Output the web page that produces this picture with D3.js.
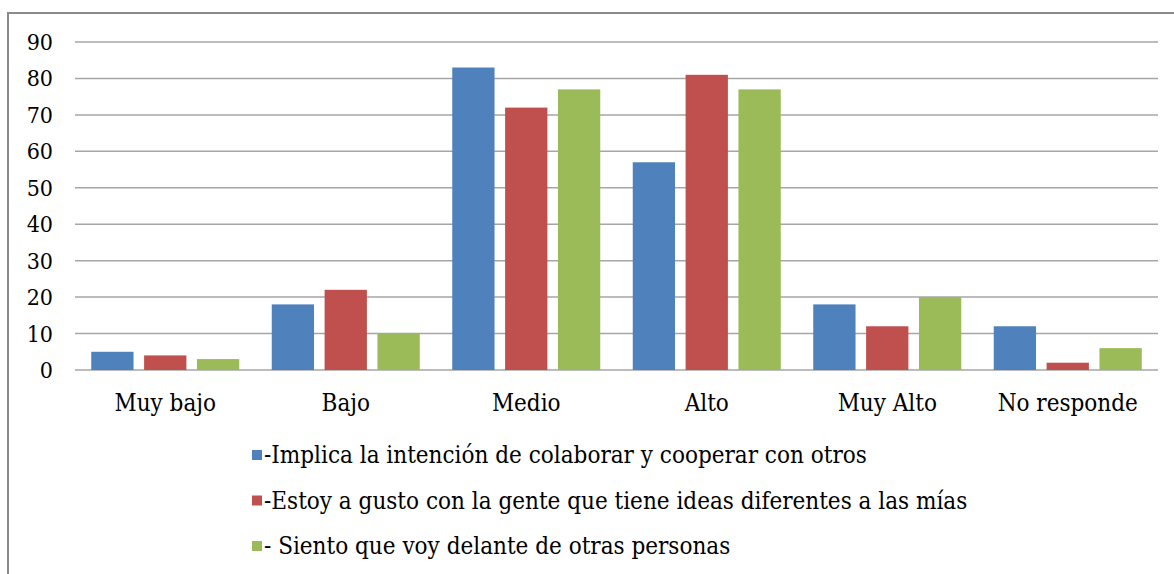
<!DOCTYPE html>
<html><head><meta charset="utf-8">
<script src="https://cdn.jsdelivr.net/npm/d3@7"></script>
<style>body{margin:0;background:#fff}svg{display:block}</style>
</head><body>
<script>
const categories = ["Muy bajo","Bajo","Medio","Alto","Muy Alto","No responde"];
const seriesNames = ["-Implica la intención de colaborar y cooperar con otros","-Estoy a gusto con la gente que tiene ideas diferentes a las mías","- Siento que voy delante de otras personas"];
const serieA = [5,18,83,57,18,12];
const serieB = [4,22,72,81,12,2];
const serieC = [3,10,77,77,20,6];
const yTicks = [0,10,20,30,40,50,60,70,80,90];
const colors = ["#4F81BD","#C0504D","#9BBB59"];
const series = [serieA, serieB, serieC];

const W=1174,H=574;
const svg=d3.select("body").append("svg").attr("width",W).attr("height",H);
svg.append("rect").attr("x",8).attr("y",13).attr("width",W).attr("height",H).attr("fill","none").attr("stroke","#8a8a8a").attr("stroke-width",2);

const x0=75,x1=1158,yTop=42,yBot=370;
const x=d3.scaleBand().domain(categories).range([x0,x1]).paddingInner(0.18).paddingOuter(0.09);
const xs=d3.scaleBand().domain([0,1,2]).range([0,x.bandwidth()]).paddingInner(0.2);
const y=d3.scaleLinear().domain([0,90]).range([yBot,yTop]);
const font='"DejaVu Serif Condensed","DejaVu Serif",serif';
const fs=24;

svg.append("g").selectAll("line").data(yTicks).join("line")
 .attr("x1",x0).attr("x2",x1).attr("y1",d=>y(d)).attr("y2",d=>y(d))
 .attr("stroke","#a6a6a6").attr("stroke-width",1.5);

svg.append("g").selectAll("text").data(yTicks).join("text")
 .attr("x",53).attr("y",d=>y(d)).attr("dy","0.35em").attr("text-anchor","end")
 .style("font-family",font)
 .attr("font-size",fs-1).attr("fill","#000").text(d=>d);

series.forEach((s,i)=>{
 svg.append("g").selectAll("rect").data(s).join("rect")
  .attr("x",(d,j)=>x(categories[j])+xs(i)).attr("width",xs.bandwidth())
  .attr("y",d=>y(d)).attr("height",d=>y(0)-y(d)).attr("fill",colors[i]);
});

svg.append("g").selectAll("text").data(categories).join("text")
 .attr("x",d=>x(d)+x.bandwidth()/2).attr("y",411).attr("text-anchor","middle")
 .style("font-family",font)
 .attr("font-size",fs).attr("fill","#000").text(d=>d);

const lg=svg.append("g");
seriesNames.forEach((n,i)=>{
 const yy=455+i*45.5;
 lg.append("rect").attr("x",252).attr("y",yy-5).attr("width",10).attr("height",10).attr("fill",colors[i]);
 lg.append("text").attr("x",264).attr("y",yy).attr("dy","0.35em")
  .style("font-family",font)
  .attr("font-size",fs).attr("fill","#000").text(n);
});
</script>
</body></html>
